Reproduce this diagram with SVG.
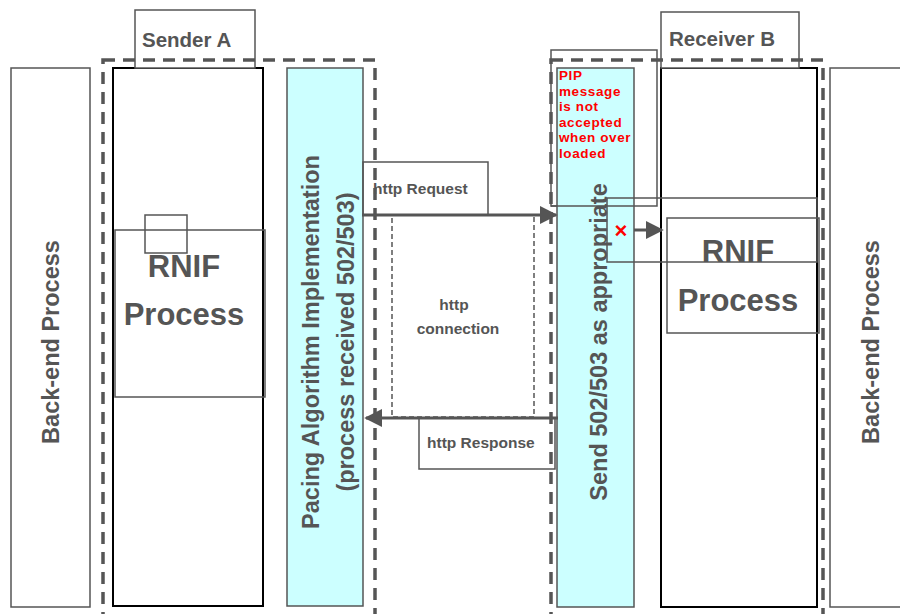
<svg xmlns="http://www.w3.org/2000/svg" width="900" height="614" viewBox="0 0 900 614">
<defs>
<style>
.box{fill:#fff;stroke:#555;stroke-width:1.5}
.col{fill:#fff;stroke:#000;stroke-width:2}
.cyan{fill:#ccffff;stroke:#555;stroke-width:1.5}
.thin{fill:none;stroke:#555;stroke-width:1.5}
.dash{fill:none;stroke:#555;stroke-width:3.5;stroke-dasharray:12,8}
.cdash{fill:none;stroke:#555;stroke-width:1.5;stroke-dasharray:5,3}
.t{font-family:"Liberation Sans",Arial,sans-serif;font-weight:bold;fill:#555}
.red{font-family:"Liberation Sans",Arial,sans-serif;font-weight:bold;fill:#ff0000;font-size:13.5px;letter-spacing:0.6px}
.conn{stroke:#555;stroke-width:3;fill:none}
</style>
<marker id="ah" viewBox="0 0 10 10" refX="9" refY="5" markerWidth="6" markerHeight="6" orient="auto" markerUnits="strokeWidth">
<path d="M0,0 L10,5 L0,10 z" fill="#555"/>
</marker>
</defs>
<rect width="900" height="614" fill="#fff"/>

<g id="backend-left">
<rect class="box" x="11" y="68" width="79" height="539"/>
<text class="t" font-size="23.5" text-anchor="middle" transform="translate(59,342) rotate(-90)">Back-end Process</text>
</g>
<g id="backend-right">
<rect class="box" x="830" y="68" width="80" height="539"/>
<text class="t" font-size="23.5" text-anchor="middle" transform="translate(879,342) rotate(-90)">Back-end Process</text>
</g>

<g id="sender-a">
<rect class="col" x="113" y="68" width="150" height="538"/>
<rect class="box" x="135" y="10" width="120" height="58"/>
<text class="t" font-size="20.5" x="142" y="47">Sender A</text>
<rect class="dash" x="103" y="60" width="272" height="570"/>
</g>

<g id="sender-rnif">
<rect class="thin" x="115" y="230" width="150" height="167"/>
<rect class="thin" x="145" y="215" width="42" height="38"/>
<text class="t" font-size="31" text-anchor="middle" x="184" y="277">RNIF</text>
<text class="t" font-size="31" text-anchor="middle" x="184" y="325">Process</text>
</g>

<g id="pacing">
<rect class="cyan" x="287" y="68" width="76" height="538"/>
<text class="t" font-size="23.5" text-anchor="middle" transform="translate(319,342) rotate(-90)">Pacing Algorithm Implementation</text>
<text class="t" font-size="23.5" text-anchor="middle" transform="translate(354,342) rotate(-90)">(process received 502/503)</text>
</g>

<g id="receiver-b">
<rect class="col" x="661" y="68" width="156" height="539"/>
<rect class="box" x="661" y="12" width="138" height="56"/>
<text class="t" font-size="20.5" x="669" y="46">Receiver B</text>
<rect class="dash" x="551" y="60" width="272" height="570"/>
</g>

<g id="send">
<rect class="cyan" x="557" y="68" width="77" height="539"/>
<text class="t" font-size="23.5" text-anchor="middle" transform="translate(607,342) rotate(-90)">Send 502/503 as appropriate</text>
</g>

<g id="pip-note">
<rect class="thin" x="551" y="50" width="106" height="156"/>
<text class="red" x="559" y="80">PIP</text>
<text class="red" x="559" y="95.5">message</text>
<text class="red" x="559" y="111">is not</text>
<text class="red" x="559" y="126.5">accepted</text>
<text class="red" x="559" y="142">when over</text>
<text class="red" x="559" y="157.5">loaded</text>
</g>

<g id="receiver-rnif">
<rect class="thin" x="607" y="198" width="210" height="64"/>
<rect class="thin" x="667" y="218" width="152" height="115"/>
<text class="t" font-size="31" text-anchor="middle" x="738" y="262">RNIF</text>
<text class="t" font-size="31" text-anchor="middle" x="738" y="311">Process</text>
</g>

<g id="http-request">
<rect class="thin" x="363" y="162" width="125" height="53"/>
<text class="t" font-size="15.5" x="373" y="194">http Request</text>
</g>
<g id="http-connection">
<rect class="cdash" x="392" y="215" width="142" height="202"/>
<text class="t" font-size="15.5" text-anchor="middle" x="454" y="310">http</text>
<text class="t" font-size="15.5" text-anchor="middle" x="458" y="334">connection</text>
</g>
<g id="http-response">
<rect class="thin" x="419" y="418" width="136" height="51"/>
<text class="t" font-size="15.5" x="427" y="448">http Response</text>
</g>

<g id="connectors">
<line class="conn" x1="362" y1="215" x2="556" y2="215" marker-end="url(#ah)"/>
<line class="conn" x1="558" y1="418" x2="366" y2="418" marker-end="url(#ah)"/>
<line class="conn" x1="634" y1="230" x2="662" y2="230" marker-end="url(#ah)"/>
<line class="thin" x1="551" y1="206" x2="557" y2="206"/>
</g>
<text x="621" y="238" font-family="Liberation Sans,Arial,sans-serif" font-weight="bold" font-size="22" fill="#ff0000" text-anchor="middle">×</text>
</svg>
